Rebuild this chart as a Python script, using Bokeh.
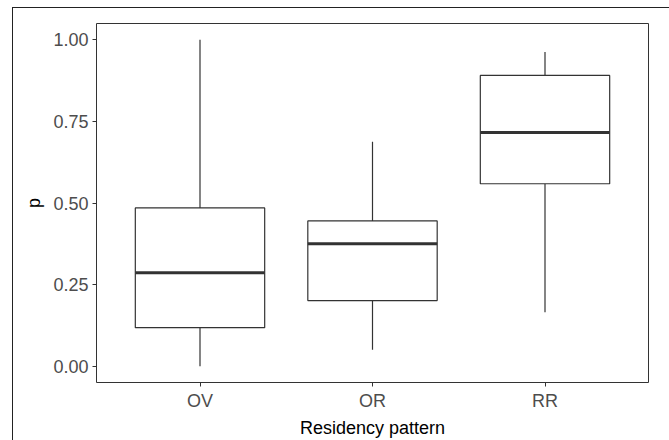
from bokeh.plotting import figure
from bokeh.models import FactorRange, Range1d, FixedTicker, NumeralTickFormatter, ColumnDataSource
from bokeh.transform import dodge
from bokeh.embed import file_html
from bokeh.resources import INLINE

categories = ["OV", "OR", "RR"]
lower_whisker = [0.0, 0.05, 0.165]
q1 = [0.118, 0.201, 0.559]
median = [0.286, 0.375, 0.716]
q3 = [0.485, 0.445, 0.891]
upper_whisker = [1.0, 0.688, 0.963]
y_ticks = [0.0, 0.25, 0.5, 0.75, 1.0]

src = ColumnDataSource(dict(cat=categories, lw=lower_whisker, q1=q1, med=median,
                            q3=q3, uw=upper_whisker))

FONT = "Liberation Sans"
LINE = "#333333"

p = figure(width=669, height=440, output_backend="svg", toolbar_location=None,
           x_range=FactorRange(*categories, range_padding=0.1, range_padding_units="absolute"),
           y_range=Range1d(-0.05, 1.05),
           min_border_left=96, min_border_top=23, min_border_right=21, min_border_bottom=56)
# outer figure frame (left and top edges) drawn behind a transparent border area
p.styles = {
    "background": ("linear-gradient(#222222,#222222) 12px 7px / 1px 100% no-repeat, "
                   "linear-gradient(#222222,#222222) 12px 7px / 100% 1px no-repeat, white"),
}

p.background_fill_color = "white"
p.border_fill_color = None
p.outline_line_color = LINE
p.outline_line_width = 1
p.xgrid.visible = False
p.ygrid.visible = False

# whiskers
p.segment(x0="cat", y0="lw", x1="cat", y1="q1", source=src, line_color=LINE, line_width=1.2)
p.segment(x0="cat", y0="q3", x1="cat", y1="uw", source=src, line_color=LINE, line_width=1.2)
# boxes
p.vbar(x="cat", bottom="q1", top="q3", width=0.75, source=src,
       fill_color="white", line_color=LINE, line_width=1.2)
# medians
p.segment(x0=dodge("cat", -0.375, range=p.x_range), y0="med",
          x1=dodge("cat", 0.375, range=p.x_range), y1="med",
          source=src, line_color=LINE, line_width=3)

for ax in (p.xaxis[0], p.yaxis[0]):
    ax.axis_line_color = None
    ax.major_tick_line_color = LINE
    ax.major_tick_out = 4
    ax.major_tick_in = 0
    ax.minor_tick_line_color = None
    ax.major_label_text_font = FONT
    ax.major_label_text_font_size = "18px"
    ax.major_label_text_color = "#4D4D4D"
    ax.major_label_standoff = 4
    ax.axis_label_text_font = FONT
    ax.axis_label_text_font_size = "18px"
    ax.axis_label_text_font_style = "normal"
    ax.axis_label_text_color = "black"

p.xaxis.axis_label = "Residency pattern"
p.xaxis.axis_label_standoff = 4
p.yaxis.axis_label = "p"
p.yaxis.axis_label_standoff = 6
p.yaxis.ticker = FixedTicker(ticks=y_ticks)
p.yaxis.formatter = NumeralTickFormatter(format="0.00")

open("out.html", "w").write(file_html(p, INLINE))
